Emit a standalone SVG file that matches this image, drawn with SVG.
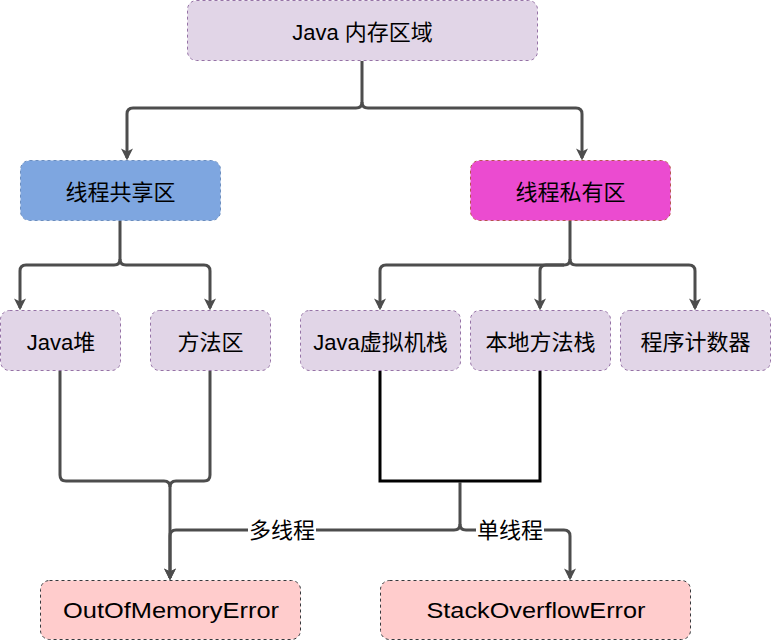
<svg xmlns="http://www.w3.org/2000/svg" width="771" height="641" viewBox="0 0 771 641">
<defs>
<style>
.box{stroke-width:1;stroke-dasharray:3 3}
.purple{fill:#e1d5e7;stroke:#9673a6}
.err{fill:#ffcccc;stroke:#36393d}
.t{font-family:"Liberation Sans","Noto Sans CJK SC",sans-serif;font-size:22px;fill:#000;text-anchor:middle}
.e{fill:none;stroke:#4d4d4d;stroke-width:3}
.lbl{fill:#fff}
</style>
<marker id="arr" viewBox="0 0 10 10" refX="8" refY="5" markerWidth="12" markerHeight="12" markerUnits="userSpaceOnUse" orient="auto">
<path d="M0,0 L10,5 L0,10 L2.5,5 z" fill="#4d4d4d"/>
</marker>
</defs>
<rect width="771" height="641" fill="#fff"/>
<g id="connectors">
<path class="e" d="M362,61 V102 Q362,108 356,108 H133 Q127,108 127,114 V158" marker-end="url(#arr)"/>
<path class="e" d="M362,102 Q362,108 368,108 H576 Q582,108 582,114 V158" marker-end="url(#arr)"/>
<path class="e" d="M120,221 V259 Q120,265 114,265 H26 Q20,265 20,271 V308" marker-end="url(#arr)"/>
<path class="e" d="M120,259 Q120,265 126,265 H204 Q210,265 210,271 V308" marker-end="url(#arr)"/>
<path class="e" d="M570,221 V259 Q570,265 564,265 H386 Q380,265 380,271 V308" marker-end="url(#arr)"/>
<path class="e" d="M564,265 H546 Q540,265 540,271 V308" marker-end="url(#arr)"/>
<path class="e" d="M570,259 Q570,265 576,265 H689 Q695,265 695,271 V308" marker-end="url(#arr)"/>
<path class="e" d="M60,371 V475 Q60,481 66,481 H164 Q170,481 170,487 V578" marker-end="url(#arr)"/>
<path class="e" d="M210,371 V475 Q210,481 204,481 H176 Q170,481 170,487"/>
<path d="M380,371 V481 H540 V371" fill="none" stroke="#000" stroke-width="3"/>
<path class="e" d="M460,482 V524 Q460,530 454,530 H176 Q170,530 170,536 V578" marker-end="url(#arr)"/>
<path class="e" d="M460,524 Q460,530 466,530 H564 Q570,530 570,536 V578" marker-end="url(#arr)"/>
<rect class="lbl" x="248" y="518" width="68" height="24"/>
<text class="t" x="282" y="538">多线程</text>
<rect class="lbl" x="476" y="518" width="68" height="24"/>
<text class="t" x="510" y="538">单线程</text>
</g>
<g id="java-memory">
<rect class="box purple" x="187.5" y="0.5" width="350" height="60" rx="9"/>
<text class="t" x="362.5" y="40">Java 内存区域</text>
</g>
<g id="shared">
<rect class="box" x="20.5" y="160.5" width="200" height="60" rx="9" fill="#7ea6e0" stroke="#6c8ebf"/>
<text class="t" x="120.5" y="200">线程共享区</text>
</g>
<g id="private">
<rect class="box" x="470.5" y="160.5" width="200" height="60" rx="9" fill="#eb4bd0" stroke="#b85450"/>
<text class="t" x="570.5" y="200">线程私有区</text>
</g>
<g id="heap">
<rect class="box purple" x="0.5" y="310.5" width="120" height="60" rx="9"/>
<text class="t" x="61" y="350">Java堆</text>
</g>
<g id="method-area">
<rect class="box purple" x="150.5" y="310.5" width="120" height="60" rx="9"/>
<text class="t" x="210.5" y="350">方法区</text>
</g>
<g id="vm-stack">
<rect class="box purple" x="300.5" y="310.5" width="160" height="60" rx="9"/>
<text class="t" x="380.5" y="350">Java虚拟机栈</text>
</g>
<g id="native-stack">
<rect class="box purple" x="470.5" y="310.5" width="140" height="60" rx="9"/>
<text class="t" x="540.5" y="350">本地方法栈</text>
</g>
<g id="pc">
<rect class="box purple" x="620.5" y="310.5" width="150" height="60" rx="9"/>
<text class="t" x="695.5" y="350">程序计数器</text>
</g>
<g id="oom">
<rect class="box err" x="40.5" y="580.5" width="260" height="59" rx="9"/>
<text class="t" x="171" y="618" textLength="216" lengthAdjust="spacingAndGlyphs">OutOfMemoryError</text>
</g>
<g id="soe">
<rect class="box err" x="380.5" y="580.5" width="310" height="59" rx="9"/>
<text class="t" x="536" y="618" textLength="219" lengthAdjust="spacingAndGlyphs">StackOverflowError</text>
</g>
</svg>
